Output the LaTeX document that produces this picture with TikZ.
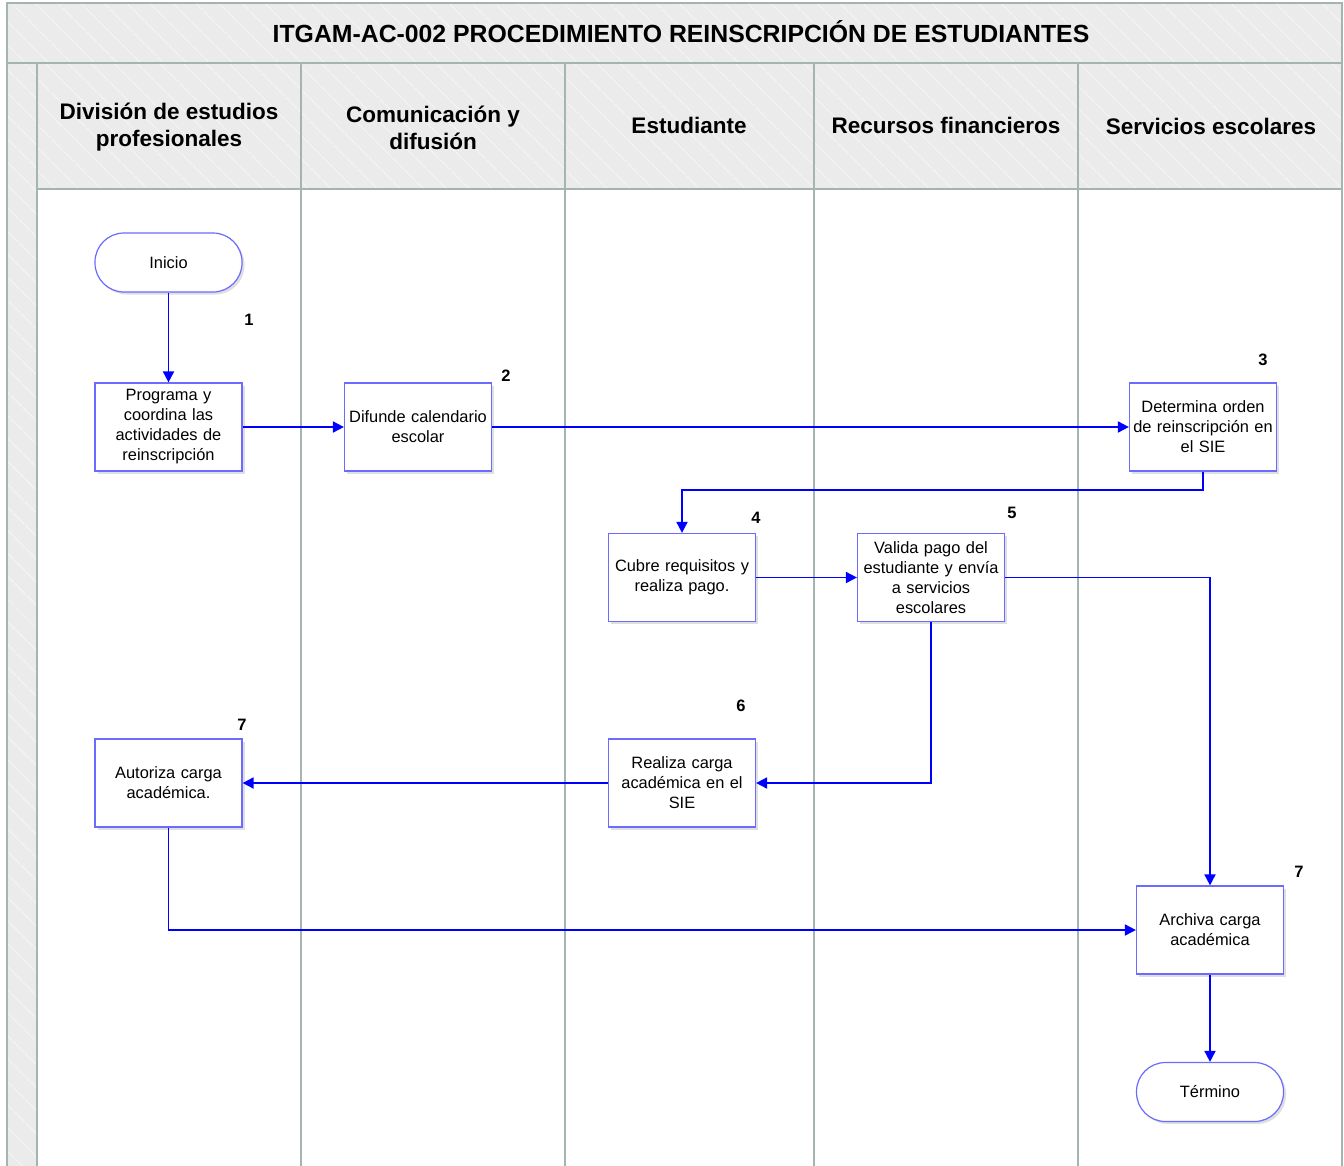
\documentclass[tikz,border=0pt]{standalone}
\usepackage{fontspec}
\setmainfont{Liberation Sans}
\usetikzlibrary{shadows,arrows.meta,patterns.meta}
\definecolor{lanec}{HTML}{A3B5AE}
\definecolor{hdr}{HTML}{EBEBEB}
\definecolor{stripe}{HTML}{F4F4F4}
\definecolor{nodeb}{HTML}{6B6BFF}
\definecolor{arr}{HTML}{0000FF}
\begin{document}
\begin{tikzpicture}[x=1pt,y=-1pt,
  box/.style={draw=nodeb, line width=1.2pt, fill=white, minimum width=147pt, minimum height=88pt,
    text width=143pt, align=center, font=\fontsize{16.4}{20}\selectfont, inner sep=2pt,
    drop shadow={opacity=0.25, shadow xshift=2.5pt, shadow yshift=-2.5pt}},
  term/.style={box, rounded corners=29pt, minimum height=59pt},
  num/.style={font=\bfseries\fontsize{16.5}{18}\selectfont, inner sep=0pt},
  lanehead/.style={font=\bfseries\fontsize{22.5}{27}\selectfont, align=center, inner sep=0pt},
  flow/.style={draw=arr, line width=1.8pt, -{Triangle[length=11pt,width=11pt]}},
  hdrfill/.style={fill=hdr, postaction={pattern={Lines[angle=-45,distance=17pt,line width=1.2pt]}, pattern color=stripe}},
  laneline/.style={draw=lanec, line width=2.2pt}
]
\useasboundingbox (0,0) rectangle (1344,1165);
\fill[white] (0,0) rectangle (1344,1165);
% title band and side strip
\path[hdrfill] (7,3) rectangle (1342,63);
\path[hdrfill] (7,63) rectangle (37,1170);
\path[hdrfill] (37,63) rectangle (1342,189);
% lane lines
\draw[laneline] (7,3) rectangle (1342,1170);
\draw[laneline] (7,63) -- (1342,63);
\draw[laneline] (37,189) -- (1342,189);
\foreach \x in {37,301,565,814,1078} \draw[laneline] (\x,63) -- (\x,1170);
% title
\node[font=\bfseries\fontsize{24.8}{27}\selectfont, inner sep=0pt] (title) at (681,32) {ITGAM-AC-002 PROCEDIMIENTO REINSCRIPCIÓN DE ESTUDIANTES};
% lane heads
\node[lanehead] (h1) at (169,127.5) {División de estudios\\profesionales};
\node[lanehead] (h2) at (433,127.5) {Comunicación y\\difusión};
\node[lanehead] (h3) at (689,125) {Estudiante};
\node[lanehead] (h4) at (946,125) {Recursos financieros};
\node[lanehead] (h5) at (1211,126) {Servicios escolares};
% nodes
\node[term] (ini) at (168.5,262.5) {Inicio};
\node[box] (p1) at (168.5,427) {Programa y\\coordina las\\actividades de\\reinscripción};
\node[box] (p2) at (418,427) {Difunde calendario\\escolar};
\node[box] (p3) at (1203,427) {Determina orden\\de reinscripción en\\el SIE};
\node[box] (p4) at (682,577.5) {Cubre requisitos y\\realiza pago.};
\node[box] (p5) at (931,577.5) {Valida pago del\\estudiante y envía\\a servicios\\escolares};
\node[box] (p6) at (682,783) {Realiza carga\\académica en el\\SIE};
\node[box] (p7) at (168.5,783) {Autoriza carga\\académica.};
\node[box] (p8) at (1210,930) {Archiva carga\\académica};
\node[term] (fin) at (1210,1092) {Término};
% numbers
\node[num] (n1) at (249,320) {1};
\node[num] (n2) at (506,376) {2};
\node[num] (n3) at (1263,360) {3};
\node[num] (n4) at (756,518) {4};
\node[num] (n5) at (1012,513) {5};
\node[num] (n6) at (741,706) {6};
\node[num] (n7a) at (242,725) {7};
\node[num] (n7b) at (1299,872) {7};
% connectors
\draw[flow] (ini) -- (p1);
\draw[flow] (p1) -- (p2);
\draw[flow] (p2) -- (p3);
\draw[flow] (p3.south) -- ++(0,18) -| (p4.north);
\draw[flow] (p4) -- (p5);
\draw[flow] (p5.east) -| (p8.north);
\draw[flow] (p5.south) |- (p6.east);
\draw[flow] (p6) -- (p7);
\draw[flow] (p7.south) |- (p8.west);
\draw[flow] (p8) -- (fin);
\end{tikzpicture}
\end{document}
